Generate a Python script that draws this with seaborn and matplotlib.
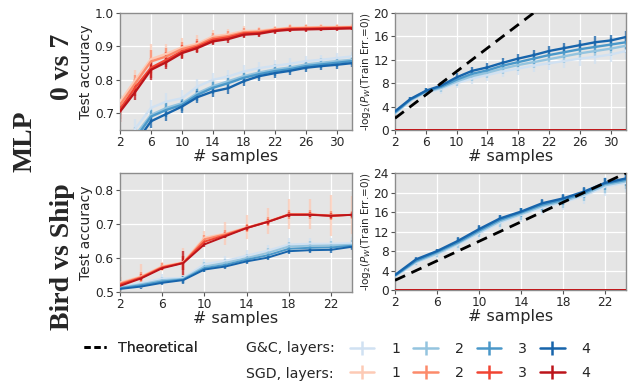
import numpy as np
import pandas as pd
import seaborn as sns
import matplotlib
matplotlib.use("Agg")
import matplotlib.pyplot as plt
from matplotlib.lines import Line2D

# ---------------- data ----------------
layers = [1, 2, 3, 4]

# 0 vs 7
x_07 = [2, 4, 6, 8, 10, 12, 14, 16, 18, 20, 22, 24, 26, 28, 30, 32]
sgd_acc_07 = [
    [0.735, 0.800, 0.862, 0.878, 0.897, 0.908, 0.930, 0.936, 0.946, 0.947, 0.952, 0.956, 0.957, 0.958, 0.958, 0.959],
    [0.725, 0.790, 0.855, 0.870, 0.892, 0.903, 0.925, 0.931, 0.942, 0.944, 0.950, 0.954, 0.955, 0.956, 0.956, 0.957],
    [0.712, 0.778, 0.836, 0.860, 0.885, 0.899, 0.920, 0.927, 0.939, 0.941, 0.948, 0.952, 0.953, 0.954, 0.955, 0.956],
    [0.705, 0.765, 0.830, 0.853, 0.880, 0.895, 0.915, 0.922, 0.935, 0.938, 0.946, 0.950, 0.951, 0.952, 0.953, 0.954],
]
sgd_err_07 = [
    [0.035, 0.028, 0.045, 0.030, 0.028, 0.025, 0.020, 0.016, 0.014, 0.012, 0.010, 0.010, 0.009, 0.008, 0.008, 0.008],
    [0.030, 0.025, 0.035, 0.025, 0.022, 0.020, 0.016, 0.014, 0.012, 0.010, 0.009, 0.009, 0.008, 0.007, 0.007, 0.007],
    [0.030, 0.025, 0.030, 0.022, 0.020, 0.016, 0.014, 0.012, 0.010, 0.010, 0.008, 0.008, 0.007, 0.007, 0.006, 0.006],
    [0.030, 0.025, 0.030, 0.020, 0.018, 0.015, 0.012, 0.012, 0.010, 0.010, 0.008, 0.008, 0.007, 0.007, 0.006, 0.006],
]
gc_acc_07 = [
    [0.560, 0.655, 0.716, 0.735, 0.745, 0.780, 0.800, 0.810, 0.825, 0.835, 0.842, 0.848, 0.856, 0.860, 0.865, 0.870],
    [0.545, 0.635, 0.695, 0.716, 0.730, 0.760, 0.781, 0.796, 0.811, 0.822, 0.831, 0.837, 0.846, 0.851, 0.856, 0.860],
    [0.535, 0.625, 0.690, 0.710, 0.725, 0.755, 0.776, 0.790, 0.806, 0.817, 0.826, 0.832, 0.841, 0.846, 0.851, 0.856],
    [0.525, 0.610, 0.676, 0.698, 0.720, 0.748, 0.765, 0.775, 0.796, 0.811, 0.820, 0.827, 0.836, 0.841, 0.845, 0.850],
]
gc_err_07 = [
    [0.030, 0.028, 0.025, 0.025, 0.024, 0.022, 0.020, 0.020, 0.018, 0.018, 0.016, 0.016, 0.015, 0.015, 0.014, 0.014],
    [0.028, 0.025, 0.022, 0.022, 0.020, 0.020, 0.018, 0.018, 0.016, 0.016, 0.015, 0.014, 0.014, 0.013, 0.013, 0.013],
    [0.026, 0.024, 0.020, 0.020, 0.018, 0.018, 0.017, 0.016, 0.015, 0.014, 0.014, 0.013, 0.013, 0.012, 0.012, 0.012],
    [0.026, 0.024, 0.020, 0.020, 0.018, 0.018, 0.017, 0.016, 0.015, 0.014, 0.014, 0.013, 0.013, 0.012, 0.012, 0.012],
]
gc_nlog_07 = [
    [2.8, 5.0, 6.4, 7.0, 8.0, 8.8, 9.4, 10.0, 10.5, 11.0, 11.4, 11.8, 12.2, 12.5, 12.9, 13.5],
    [2.9, 5.1, 6.5, 7.2, 8.3, 9.2, 9.8, 10.5, 11.1, 11.6, 12.1, 12.6, 13.1, 13.5, 13.9, 14.4],
    [3.0, 5.2, 6.6, 7.4, 8.6, 9.6, 10.2, 11.0, 11.6, 12.2, 12.8, 13.3, 13.8, 14.2, 14.6, 15.0],
    [3.2, 5.3, 6.7, 7.6, 9.0, 10.1, 10.7, 11.5, 12.2, 12.8, 13.5, 14.0, 14.5, 15.0, 15.3, 15.9],
]
gc_nlog_err_07 = [
    [0.3, 0.5, 0.6, 0.8, 0.9, 0.9, 1.0, 1.0, 1.1, 1.1, 1.2, 1.2, 1.2, 1.3, 1.3, 1.3],
    [0.3, 0.4, 0.5, 0.7, 0.8, 0.8, 0.9, 0.9, 1.0, 1.0, 1.0, 1.1, 1.1, 1.1, 1.2, 1.2],
    [0.3, 0.4, 0.5, 0.6, 0.7, 0.7, 0.8, 0.8, 0.9, 0.9, 0.9, 1.0, 1.0, 1.0, 1.1, 1.1],
    [0.3, 0.4, 0.4, 0.6, 0.7, 0.7, 0.7, 0.8, 0.8, 0.8, 0.9, 0.9, 0.9, 1.0, 1.0, 1.0],
]
sgd_nlog_07 = [
    [0.05] * 16, [0.05] * 16, [0.05] * 16, [0.05] * 16,
]
theory_07 = [2, 4, 6, 8, 10, 12, 14, 16, 18, 20, 22, 24, 26, 28, 30, 32]

# Bird vs Ship
x_bs = [2, 4, 6, 8, 10, 12, 14, 16, 18, 20, 22, 24]
sgd_acc_bs = [
    [0.528, 0.546, 0.576, 0.588, 0.660, 0.672, 0.690, 0.708, 0.729, 0.729, 0.725, 0.727],
    [0.525, 0.544, 0.574, 0.586, 0.655, 0.670, 0.689, 0.707, 0.728, 0.728, 0.725, 0.727],
    [0.522, 0.542, 0.572, 0.586, 0.648, 0.667, 0.688, 0.706, 0.728, 0.728, 0.724, 0.727],
    [0.518, 0.540, 0.570, 0.585, 0.640, 0.664, 0.688, 0.706, 0.727, 0.727, 0.724, 0.727],
]
sgd_err_bs = [
    [0.050, 0.035, 0.013, 0.040, 0.018, 0.033, 0.035, 0.038, 0.045, 0.045, 0.060, 0.055],
    [0.020, 0.015, 0.010, 0.020, 0.012, 0.012, 0.012, 0.014, 0.012, 0.012, 0.012, 0.012],
    [0.012, 0.010, 0.008, 0.020, 0.010, 0.008, 0.008, 0.008, 0.008, 0.008, 0.008, 0.008],
    [0.008, 0.006, 0.006, 0.035, 0.008, 0.006, 0.006, 0.006, 0.006, 0.006, 0.006, 0.006],
]
gc_acc_bs = [
    [0.516, 0.527, 0.540, 0.542, 0.582, 0.592, 0.607, 0.622, 0.640, 0.642, 0.642, 0.644],
    [0.513, 0.523, 0.535, 0.539, 0.575, 0.586, 0.600, 0.615, 0.634, 0.636, 0.637, 0.639],
    [0.511, 0.520, 0.531, 0.537, 0.570, 0.580, 0.595, 0.608, 0.627, 0.630, 0.631, 0.636],
    [0.509, 0.516, 0.527, 0.535, 0.566, 0.575, 0.590, 0.601, 0.620, 0.623, 0.624, 0.633],
]
gc_err_bs = [
    [0.010, 0.012, 0.012, 0.012, 0.015, 0.015, 0.016, 0.016, 0.018, 0.018, 0.018, 0.018],
    [0.008, 0.010, 0.010, 0.012, 0.012, 0.012, 0.013, 0.013, 0.014, 0.014, 0.014, 0.014],
    [0.007, 0.008, 0.008, 0.010, 0.010, 0.010, 0.010, 0.010, 0.011, 0.011, 0.011, 0.011],
    [0.006, 0.007, 0.007, 0.012, 0.008, 0.008, 0.008, 0.008, 0.009, 0.009, 0.009, 0.009],
]
gc_nlog_bs = [
    [2.8, 5.6, 7.3, 9.3, 11.6, 13.8, 15.4, 16.9, 18.0, 19.3, 21.2, 22.0],
    [2.9, 5.8, 7.5, 9.6, 11.9, 14.1, 15.6, 17.2, 18.2, 19.6, 21.5, 22.3],
    [3.0, 6.0, 7.8, 9.8, 12.2, 14.4, 15.9, 17.5, 18.5, 19.9, 21.8, 22.6],
    [3.1, 6.3, 8.0, 10.1, 12.5, 14.7, 16.1, 17.8, 18.8, 20.2, 22.0, 22.9],
]
gc_nlog_err_bs = [
    [0.5, 0.7, 0.8, 1.2, 1.2, 1.3, 1.4, 1.5, 1.6, 1.7, 1.9, 1.8],
    [0.4, 0.6, 0.7, 1.0, 1.0, 1.1, 1.2, 1.2, 1.3, 1.4, 1.5, 1.5],
    [0.4, 0.5, 0.6, 0.8, 0.9, 0.9, 1.0, 1.0, 1.1, 1.1, 1.2, 1.2],
    [0.3, 0.4, 0.5, 0.7, 0.8, 0.8, 0.8, 0.9, 0.9, 1.0, 1.0, 1.0],
]
sgd_nlog_bs = [
    [0.1] * 12, [0.1] * 12, [0.1] * 12, [0.1] * 12,
]
theory_bs = [2, 4, 6, 8, 10, 12, 14, 16, 18, 20, 22, 24]

# ---------------- style ----------------
sns.set_theme(style="darkgrid", rc={
    "axes.facecolor": "#E5E5E5",
    "grid.color": "white",
    "grid.linewidth": 0.9,
    "axes.edgecolor": "#8c8c8c",
    "axes.linewidth": 1.0,
})
plt.rcParams["font.family"] = ["DejaVu Sans"]

blues = sns.color_palette("Blues", 4)
reds = sns.color_palette("Reds", 4)

fig = plt.figure(figsize=(6.33, 3.92), dpi=100)

pos = {
    "tl": [0.1896, 0.6684, 0.3665, 0.2985],
    "tr": [0.624, 0.6684, 0.365, 0.2985],
    "bl": [0.1896, 0.2551, 0.3665, 0.3036],
    "br": [0.624, 0.2600, 0.365, 0.2985],
}
axes = {k: fig.add_axes(v) for k, v in pos.items()}


def to_df(x, series):
    rows = []
    for li, vals in zip(layers, series):
        for xi, v in zip(x, vals):
            rows.append({"n": xi, "val": v, "layers": li})
    return pd.DataFrame(rows)


def draw_group(ax, x, vals, errs, pal, lw=1.7):
    for i in range(4):
        if errs is not None:
            ax.errorbar(x, vals[i], yerr=errs[i], fmt="none", ecolor=pal[i],
                        elinewidth=1.7, alpha=0.75, zorder=2)
    df = to_df(x, vals)
    sns.lineplot(data=df, x="n", y="val", hue="layers", palette=pal, ax=ax,
                 linewidth=lw, legend=False, zorder=3, errorbar=None)


# top-left
ax = axes["tl"]
draw_group(ax, x_07, gc_acc_07, gc_err_07, blues)
draw_group(ax, x_07, sgd_acc_07, sgd_err_07, reds)
ax.set_xlim(2, 32)
ax.set_ylim(0.65, 1.0)
ax.set_xticks([2, 6, 10, 14, 18, 22, 26, 30])
ax.set_yticks([0.7, 0.8, 0.9, 1.0])
ax.set_ylabel("Test accuracy", fontsize=10, labelpad=1)

# top-right
ax = axes["tr"]
draw_group(ax, x_07, sgd_nlog_07, None, reds, lw=2)
draw_group(ax, x_07, gc_nlog_07, gc_nlog_err_07, blues)
sns.lineplot(x=x_07, y=theory_07, ax=ax, color="black", linestyle=(0, (4, 2.5)),
             linewidth=2, zorder=4)
ax.set_xlim(2, 32)
ax.set_ylim(0, 20)
ax.set_xticks([2, 6, 10, 14, 18, 22, 26, 30])
ax.set_yticks([0, 4, 8, 12, 16, 20])
ax.set_ylabel(r"-log$_2$($P_W$(Train Err.=0))", fontsize=7.5, labelpad=0)

# bottom-left
ax = axes["bl"]
draw_group(ax, x_bs, gc_acc_bs, gc_err_bs, blues, lw=1.4)
draw_group(ax, x_bs, sgd_acc_bs, sgd_err_bs, reds, lw=1.4)
ax.set_xlim(2, 24)
ax.set_ylim(0.5, 0.85)
ax.set_xticks([2, 6, 10, 14, 18, 22])
ax.set_yticks([0.5, 0.6, 0.7, 0.8])
ax.set_ylabel("Test accuracy", fontsize=10, labelpad=1)

# bottom-right
ax = axes["br"]
draw_group(ax, x_bs, sgd_nlog_bs, None, reds, lw=2)
draw_group(ax, x_bs, gc_nlog_bs, gc_nlog_err_bs, blues)
sns.lineplot(x=x_bs, y=theory_bs, ax=ax, color="black", linestyle=(0, (4, 2.5)),
             linewidth=2, zorder=4)
ax.set_xlim(2, 24)
ax.set_ylim(0, 24)
ax.set_xticks([2, 6, 10, 14, 18, 22])
ax.set_yticks([0, 4, 8, 12, 16, 20, 24])
ax.set_ylabel(r"-log$_2$($P_W$(Train Err.=0))", fontsize=7.5, labelpad=0)

for ax in axes.values():
    ax.set_xlabel("# samples", fontsize=11.5, labelpad=0)
    ax.tick_params(axis="both", labelsize=8.7, length=3, width=0.8,
                   color="#555555", pad=1.5, bottom=True, left=True)
    for s in ax.spines.values():
        s.set_color("#8c8c8c")

# row labels
serif = ["Liberation Serif", "DejaVu Serif"]
fig.text(0.040, 0.64, "MLP", rotation=90, ha="center", va="center",
         fontsize=20, fontweight="bold", family=serif)
fig.text(0.098, 0.83, "0 vs 7", rotation=90, ha="center", va="center",
         fontsize=20, fontweight="bold", family=serif)
fig.text(0.098, 0.345, "Bird vs Ship", rotation=90, ha="center", va="center",
         fontsize=20, fontweight="bold", family=serif)

# legends
theo_handle = Line2D([], [], color="black", linestyle=(0, (2.2, 1.4)), linewidth=2)
leg1 = fig.legend([theo_handle], ["Theoretical"], loc="center left",
                  bbox_to_anchor=(0.132, 0.112), frameon=False, fontsize=10.2,
                  handlelength=1.6, handletextpad=0.85, borderpad=0, borderaxespad=0)
fig.add_artist(leg1)

fig.text(0.388, 0.112, "G&C, layers:", ha="left", va="center", fontsize=10.2,
         color="#262626")
fig.text(0.388, 0.046, "SGD, layers:", ha="left", va="center", fontsize=10.2,
         color="#262626")

# errorbar-style legend handles (drawn on a hidden helper axes)
hax = fig.add_axes([0, 0, 0.01, 0.01])
hax.set_visible(False)
handles, labels = [], []
for i in range(4):
    for pal in (blues, reds):
        h = hax.errorbar([0], [0], yerr=[1], color=pal[i], linewidth=1.8,
                         elinewidth=1.8)
        handles.append(h)
        labels.append(str(layers[i]))
fig.legend(handles, labels, ncol=4, loc="center left",
           bbox_to_anchor=(0.553, 0.079), frameon=False, fontsize=10.2,
           handlelength=1.7, handletextpad=1.2, columnspacing=0.95,
           labelspacing=0.75, borderpad=0, borderaxespad=0)

fig.savefig("out.png", dpi=100)
